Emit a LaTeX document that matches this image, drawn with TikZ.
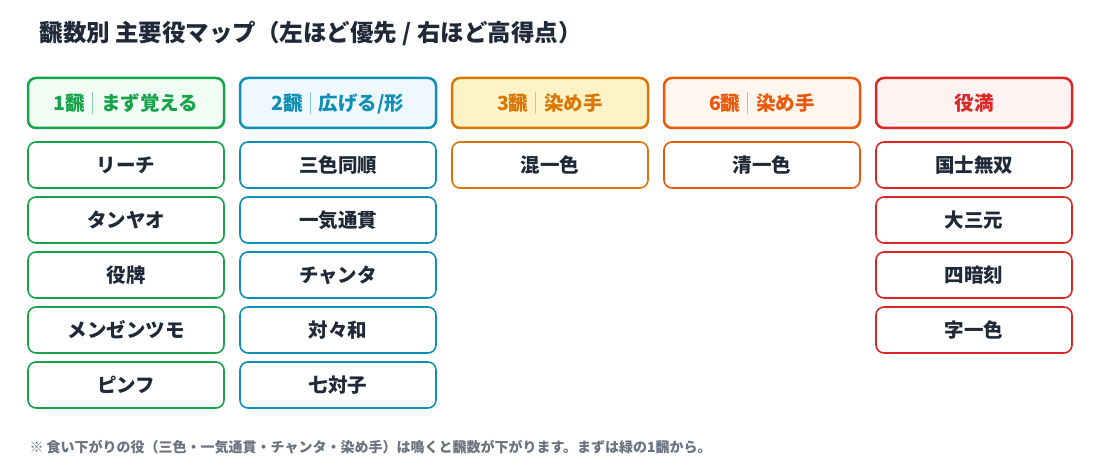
\documentclass[tikz,border=0pt]{standalone}
\usepackage{fontspec}
\setmainfont{Noto Sans CJK JP}
\usepackage{tikz}

\definecolor{ink}{HTML}{1F2937}
\definecolor{note}{HTML}{6B7280}
\definecolor{hanA}{HTML}{16A34A} \definecolor{hanAbg}{HTML}{F0FDF4}
\definecolor{hanB}{HTML}{0E8FB5} \definecolor{hanBbg}{HTML}{EFF8FF}
\definecolor{hanC}{HTML}{D97706} \definecolor{hanCbg}{HTML}{FEF3C7}
\definecolor{hanD}{HTML}{EA580C} \definecolor{hanDbg}{HTML}{FFF7ED}
\definecolor{hanE}{HTML}{DC2626} \definecolor{hanEbg}{HTML}{FEF2F2}

\tikzset{
  head/.style={draw=#1, fill=#1bg, text=#1, line width=2.5pt, rounded corners=8pt,
    minimum width=196pt, minimum height=50pt, font=\fontsize{19.5}{21}\selectfont\bfseries},
  yaku/.style={draw=#1, fill=white, text=ink, line width=1.6pt, rounded corners=8pt,
    minimum width=196pt, minimum height=46pt, font=\fontsize{19.5}{21}\selectfont\bfseries},
}
\newcommand{\sep}[1]{\hspace{7pt}{\color{#1!50}\rule[-3pt]{1pt}{22pt}}\hspace{8pt}}

\begin{document}
\begin{tikzpicture}[x=1pt, y=-1pt]
\useasboundingbox[fill=white] (0,0) rectangle (1100,470);
\node[anchor=west, text=ink, font=\fontsize{23.5}{26}\selectfont\bfseries] (title) at (36,33) {飜数別 主要役マップ（左ほど優先 / 右ほど高得点）};

\node[head=hanA] (h1) at (126,103) {1飜\sep{hanA}まず覚える};
\node[head=hanB] (h2) at (338,103) {2飜\sep{hanB}広げる/形};
\node[head=hanC] (h3) at (550,103) {3飜\sep{hanC}染め手};
\node[head=hanD] (h4) at (762,103) {6飜\sep{hanD}染め手};
\node[head=hanE] (h5) at (974,103) {役満};

\node[yaku=hanA] (a1) at (126,165) {リーチ};
\node[yaku=hanA] (a2) at (126,220) {タンヤオ};
\node[yaku=hanA] (a3) at (126,275) {役牌};
\node[yaku=hanA] (a4) at (126,330) {メンゼンツモ};
\node[yaku=hanA] (a5) at (126,385) {ピンフ};

\node[yaku=hanB] (b1) at (338,165) {三色同順};
\node[yaku=hanB] (b2) at (338,220) {一気通貫};
\node[yaku=hanB] (b3) at (338,275) {チャンタ};
\node[yaku=hanB] (b4) at (338,330) {対々和};
\node[yaku=hanB] (b5) at (338,385) {七対子};

\node[yaku=hanC] (c1) at (550,165) {混一色};
\node[yaku=hanD] (d1) at (762,165) {清一色};

\node[yaku=hanE] (e1) at (974,165) {国士無双};
\node[yaku=hanE] (e2) at (974,220) {大三元};
\node[yaku=hanE] (e3) at (974,275) {四暗刻};
\node[yaku=hanE] (e4) at (974,330) {字一色};

\node[anchor=west, text=note, font=\fontsize{14}{16}\selectfont\bfseries] (foot) at (26,447) {※ 食い下がりの役（三色・一気通貫・チャンタ・染め手）は鳴くと飜数が下がります。まずは緑の1飜から。};
\end{tikzpicture}
\end{document}
